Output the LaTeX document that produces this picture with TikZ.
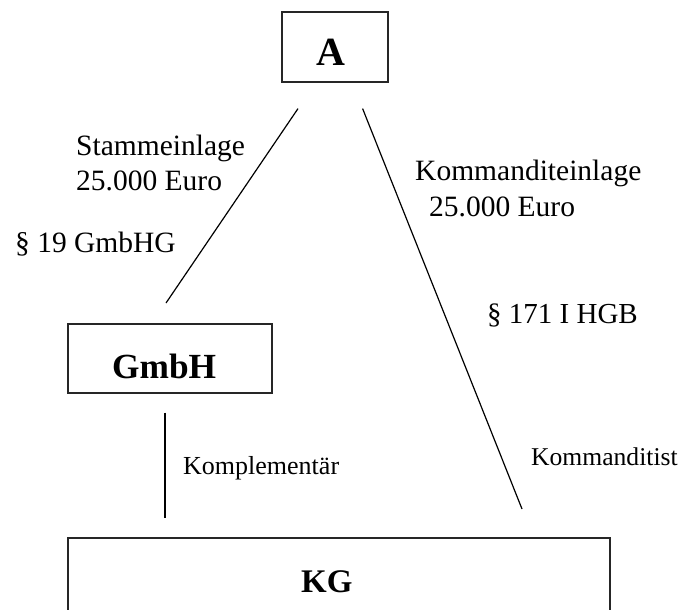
\documentclass[tikz,border=0pt]{standalone}
\usepackage{fontspec}
\setmainfont{Liberation Serif}
\usetikzlibrary{calc}
\tikzset{
  box/.style={draw=black!85, line width=1.6pt, inner sep=0pt, anchor=north west},
  lbl/.style={inner sep=0pt, anchor=base west},
  conn/.style={line width=1.2pt},
  big/.style={font=\fontsize{29.5}{35}\selectfont},
  small/.style={font=\fontsize{26}{31}\selectfont},
}
\begin{document}
\begin{tikzpicture}[x=1pt,y=-1pt]
\clip (0,0) rectangle (685,610);
% boxes
\node[box, minimum width=106pt, minimum height=70pt] (A) at (281,11) {};
\node[box, minimum width=204pt, minimum height=69pt] (G) at (67,323) {};
\node[box, minimum width=542pt, minimum height=110pt] (K) at (67,537) {};
% box texts
\node[lbl, font=\fontsize{40}{46}\bfseries\selectfont] (tA) at (316,66) {A};
\node[lbl, font=\fontsize{35.3}{42}\bfseries\selectfont] (tG) at (112,378) {GmbH};
\node[lbl, font=\fontsize{33}{40}\bfseries\selectfont] (tK) at (301,592) {KG};
% connector ends
\coordinate (a1) at ($(A.south west)+(17,26)$);
\coordinate (g1) at ($(G.north west)+(99,-20)$);
\coordinate (a2) at ($(A.south east)+(-26,26)$);
\coordinate (k2) at ($(K.north west)+(455,-28)$);
\coordinate (g2) at ($(G.south west)+(98,19)$);
\coordinate (k1) at ($(K.north west)+(98,-19)$);
\draw[conn] (a1) -- (g1);
\draw[conn] (a2) -- (k2);
\draw[conn] (g2) -- (k1);
% labels
\node[lbl, big] (l1) at (76,155) {Stammeinlage};
\node[lbl, big] (l2) at (76,190) {25.000 Euro};
\node[lbl, big] (l3) at (15,252) {§ 19 GmbHG};
\node[lbl, big] (l4) at (415,180) {Kommanditeinlage};
\node[lbl, big] (l5) at (429,216) {25.000 Euro};
\node[lbl, font=\fontsize{29}{35}\selectfont] (l6) at (487,323) {§ 171 I HGB};
\node[lbl, small] (l7) at (183,474) {Komplementär};
\node[lbl, font=\fontsize{25.6}{31}\selectfont] (l8) at (531,465) {Kommanditist};
\end{tikzpicture}
\end{document}
